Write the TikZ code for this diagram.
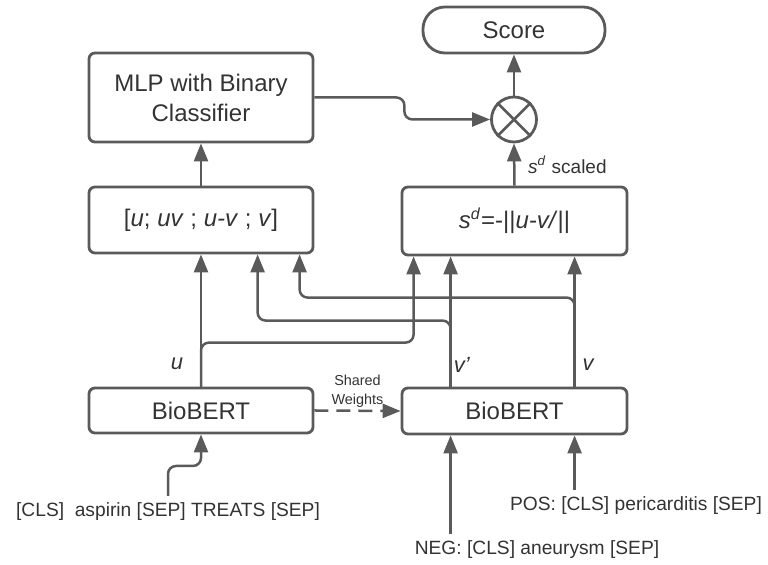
\documentclass[tikz,border=0pt]{standalone}
\usepackage{fontspec}
\setmainfont{Liberation Sans}
\usetikzlibrary{arrows.meta,calc}
\definecolor{linegray}{HTML}{5A5A5A}
\definecolor{textgray}{HTML}{333333}
\tikzset{
  box/.style={draw=linegray, line width=1.4pt, rounded corners=3pt, text=textgray,
    align=center, minimum width=112pt, font=\fontsize{12}{15}\selectfont},
  conn/.style={draw=linegray, line width=1.25pt, -{Triangle[length=9pt,width=7pt]}},
  lbl/.style={text=textgray, font=\fontsize{11}{13}\selectfont\itshape},
  intext/.style={text=textgray, font=\fontsize{9.6}{11}\selectfont},
}

\begin{document}
\begin{tikzpicture}[x=0.5pt,y=-0.5pt]
        \useasboundingbox (0,0) rectangle (768,565);
        \draw (201,97.5) node[box,minimum height=44.5pt] (mlp) {MLP with Binary\\Classifier};
        \draw (201,220) node[box,minimum height=33pt] (concat) {[\textit{u}; \textit{uv} ; \textit{u-v} ; \textit{v}]};
        \draw (514.5,221) node[box,minimum height=34pt,minimum width=112.5pt] (sd) {\textit{s}\textsuperscript{\textit{d}}=-||\textit{u-v/}||};
        \draw (514,30) node[box,minimum height=23pt,minimum width=91pt,rounded corners=11pt] (score) {Score};
        \draw (514,119.5) node[circle,draw=linegray,line width=1.4pt,minimum size=22.5pt,inner sep=0pt] (mult) {};
        \draw[linegray,line width=1.4pt] (mult.45)--(mult.225) (mult.135)--(mult.315);
        \draw (201,410.5) node[box,minimum height=22.5pt] (bio1) {BioBERT};
        \draw (514.5,411) node[box,minimum height=23pt,minimum width=112.5pt] (bio2) {BioBERT};

        % inputs
        \draw (168,512) node[intext] (aspin) {[CLS]\ \ aspirin [SEP] TREATS [SEP]};
        \draw (636,506) node[intext] (pos) {POS: [CLS] pericarditis [SEP]};
        \draw (537,550) node[intext] (neg) {NEG: [CLS] aneurysm [SEP]};

        % encoder outputs
        \coordinate (uout) at (bio1.north);
        \coordinate (vpout) at ($(bio2.north west)+(50,0)$);
        \coordinate (vout) at ($(bio2.north west)+(174,0)$);

        \draw[conn,rounded corners=4pt] (aspin.north)--++(0,-30) -| (bio1.south);
        \draw[conn] (neg.north -| vpout)--(vpout |- bio2.south);
        \draw[conn] (pos.north -| vout)--(vout |- bio2.south);
        \draw[conn,dash pattern=on 7pt off 4pt] (bio1.east)--(bio2.west)
        node[above=0pt,pos=.5,inner sep=1pt,text=textgray,align=center,font=\fontsize{7.2}{9.5}\selectfont] {Shared\\Weights};

        \draw[conn] (uout)--(concat.south) node[lbl,left=5pt,pos=.17] {u};
        \draw[conn] (vpout)--($(sd.south west)+(50,0)$) node[lbl,right,inner sep=1pt,pos=.17] {v'};
        \draw[conn] (vout)--($(sd.south west)+(174,0)$) node[lbl,right,pos=.17] {v};
        \draw[conn,rounded corners=4pt] (uout)--++(0,-44) -| ($(sd.south west)+(13,0)$);
        \draw[conn,rounded corners=4pt] (vpout)--++(0,-66) -| ($(concat.south west)+(170,0)$);
        \draw[conn,rounded corners=4pt] (vout)--++(0,-89) -| ($(concat.south west)+(212,0)$);

        \draw[conn] (concat.north)--(mlp.south);
        \draw[conn] (sd.north)--(mult.south)
        node[right=3pt,pos=.5,text=textgray,font=\fontsize{9.5}{11}\selectfont] {\textit{s}\textsuperscript{\textit{d}} scaled};
        \draw[conn] (mult.north)--(score.south);
        \draw[conn,rounded corners=4pt] (mlp.east)--++(90,0) |- (mult.west);
\end{tikzpicture}
\end{document}
